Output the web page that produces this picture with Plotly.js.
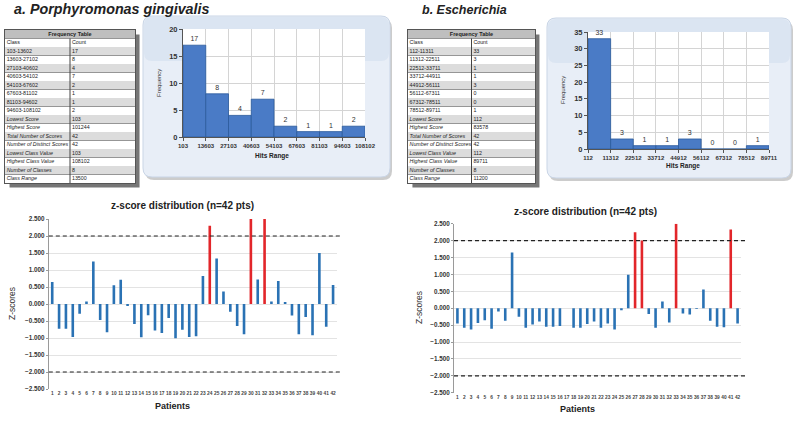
<!DOCTYPE html>
<html><head><meta charset="utf-8">
<script src="https://cdn.plot.ly/plotly-3.0.1.min.js"></script>
<style>html,body{margin:0;padding:0;background:#fff}#chart{width:800px;height:425px}</style>
</head><body><div id="chart"></div>
<script>
const FONT = 'Liberation Sans, Arial, Helvetica, sans-serif';

// ---- Panel a: Porphyromonas gingivalis ----
const histA_edges = ['103','13603','27103','40603','54103','67603','81103','94603','108102'];
const histA_counts = [17, 8, 4, 7, 2, 1, 1, 2];
const tableA_classes = ['103-13602','13603-27102','27103-40602','40603-54102','54103-67602','67603-81102','81103-94602','94603-108102'];
const tableA_statNames = ['Lowest Score','Highest Score','Total Number of Scores','Number of Distinct Scores','Lowest Class Value','Highest Class Value','Number of Classes','Class Range'];
const tableA_statValues = ['103','101244','42','42','103','108102','8','13500'];

// ---- Panel b: Escherichia ----
const histB_edges = ['112','11312','22512','33712','44912','56112','67312','78512','89711'];
const histB_counts = [33, 3, 1, 1, 3, 0, 0, 1];
const tableB_classes = ['112-11311','11312-22511','22512-33711','33712-44911','44912-56111','56112-67311','67312-78511','78512-89711'];
const tableB_statNames = ['Lowest Score','Highest Score','Total Number of Scores','Number of Distinct Scores','Lowest Class Value','Highest Class Value','Number of Classes','Class Range'];
const tableB_statValues = ['112','83578','42','42','112','89711','8','11200'];

const tableTitle = 'Frequency Table';
const tableHeader = ['Class', 'Count'];

// ---- z-scores ----
const patients = ['1','2','3','4','5','6','7','8','9','10','11','12','13','14','15','16','17','18','19','20','21',
  '22','23','24','25','26','27','28','29','30','31','32','33','34','35','36','37','38','39','40','41','42'];
const zA = [0.65,-0.73,-0.73,-0.97,-0.29,0.07,1.25,-0.47,-0.83,0.55,0.71,-0.06,-0.59,-0.98,-0.33,-0.78,-0.85,-0.41,-1.01,-0.76,-0.97,
  -0.95,0.82,2.30,1.34,0.37,-0.23,-0.65,-0.89,2.50,0.72,2.50,0.07,0.68,0.06,-0.34,-0.89,-0.38,-0.92,1.50,-0.67,0.56];
const zB = [-0.45,-0.58,-0.63,-0.44,-0.36,-0.61,-0.10,-0.37,1.65,-0.25,-0.58,-0.48,-0.39,-0.55,-0.55,-0.53,0,-0.58,-0.58,-0.47,-0.39,
  -0.58,-0.45,-0.63,-0.06,0.99,2.25,2.00,-0.17,-0.58,0.20,-0.42,2.50,-0.16,-0.19,-0.02,0.55,-0.37,-0.55,-0.56,2.33,-0.45];
const flaggedA = ['24','30','32'];
const flaggedB = ['27','28','33','41'];
const zTitle = 'z-score distribution (n=42 pts)';
const zThresholds = [2, -2];

const BLUE_H = '#4a7bc6', BLUE_H_LINE = '#2b5b9c';
const BLUE_Z = '#2a72b4', RED_Z = '#e2262a';

const W = 800, H = 425;
const px = x => x / W;
const py = y => 1 - y / H;

// ---------- tables (heatmap cells + text) ----------
function tableTraces(classes, counts, statNames, statValues, xa, ya) {
  const col1 = [tableHeader[0]].concat(classes, statNames.map(s => '<i>' + s + '</i>'));
  const col2 = [tableHeader[1]].concat(counts.map(String), statValues);
  const nRows = col1.length + 1; // + title row
  const rowCenters = [];
  const z = [];
  for (let r = 0; r < nRows; r++) {
    rowCenters.push(r + 0.5);
    const v = r === 0 ? 2 : (r === 1 ? 0 : (r % 2 === 0 ? 1 : 0));
    z.push([v, v]);
  }
  const heat = {
    type: 'heatmap', xaxis: xa, yaxis: ya, x: [0.5, 1.5], y: rowCenters, z: z,
    zmin: 0, zmax: 2, showscale: false, ygap: 1, hoverinfo: 'skip',
    colorscale: [[0, '#ffffff'], [0.5, '#dcdcdc'], [1, '#bfbfbf']]
  };
  const bodyRows = rowCenters.slice(1);
  const txt1 = {type: 'scatter', mode: 'text', xaxis: xa, yaxis: ya, cliponaxis: false, hoverinfo: 'skip',
    x: bodyRows.map(() => 0.025), y: bodyRows, text: col1, textposition: 'middle right',
    textfont: {family: FONT, size: 5.3, color: '#222'}};
  const txt2 = {type: 'scatter', mode: 'text', xaxis: xa, yaxis: ya, cliponaxis: false, hoverinfo: 'skip',
    x: bodyRows.map(() => 1.03), y: bodyRows, text: col2, textposition: 'middle right',
    textfont: {family: FONT, size: 5.3, color: '#222'}};
  const ttl = {type: 'scatter', mode: 'text', xaxis: xa, yaxis: ya, cliponaxis: false, hoverinfo: 'skip',
    x: [1], y: [rowCenters[0]], text: ['<b>' + tableTitle + '</b>'], textposition: 'middle center',
    textfont: {family: FONT, size: 5.5, color: '#222'}};
  return [heat, txt1, txt2, ttl];
}
function tableX(domain) {
  return {domain: domain, range: [0, 2], showgrid: false, zeroline: false, showticklabels: false, ticks: '',
    showline: true, mirror: true, linecolor: '#555', linewidth: 1, fixedrange: true};
}
function tableY(domain, nRows) {
  const vals = [];
  for (let r = 0; r <= nRows; r++) vals.push(r);
  return {domain: domain, range: [nRows, 0], tickmode: 'array', tickvals: vals, showgrid: true, gridcolor: '#6a6a6a',
    gridwidth: 0.7, zeroline: false, showticklabels: false, ticks: '',
    showline: true, mirror: true, linecolor: '#555', linewidth: 1, fixedrange: true};
}

function histTrace(counts, xa, ya) {
  return {
    type: 'bar', xaxis: xa, yaxis: ya,
    x: counts.map((_, i) => i + 0.5), y: counts, width: 1,
    marker: {color: BLUE_H, line: {color: BLUE_H_LINE, width: 0.8}},
    text: counts.map(String), textposition: 'outside', cliponaxis: false,
    textfont: {family: FONT, size: 7, color: '#333'},
    hoverinfo: 'skip'
  };
}

function zTrace(vals, flagged, xa, ya) {
  return {
    type: 'bar', xaxis: xa, yaxis: ya, x: patients, y: vals, width: 0.38,
    marker: {color: patients.map(p => flagged.includes(p) ? RED_Z : BLUE_Z)},
    hoverinfo: 'skip'
  };
}

const nRowsA = 2 + tableA_classes.length + tableA_statNames.length;
const nRowsB = 2 + tableB_classes.length + tableB_statNames.length;

const data = [].concat(
  tableTraces(tableA_classes, histA_counts, tableA_statNames, tableA_statValues, 'x5', 'y5'),
  tableTraces(tableB_classes, histB_counts, tableB_statNames, tableB_statValues, 'x6', 'y6'),
  [histTrace(histA_counts, 'x', 'y'),
   histTrace(histB_counts, 'x2', 'y2'),
   zTrace(zA, flaggedA, 'x3', 'y3'),
   zTrace(zB, flaggedB, 'x4', 'y4')]
);

function histX(domain, edges) {
  return {domain: domain, range: [0, edges.length - 1], tickvals: edges.map((_, i) => i), ticktext: edges,
    showgrid: true, gridcolor: '#d4d4d4', gridwidth: 1, zeroline: false,
    showline: true, linecolor: '#555', linewidth: 1, ticks: 'outside', ticklen: 3, tickcolor: '#555',
    tickangle: 0, tickfont: {family: FONT, size: 6, weight: 'bold', color: '#333'}};
}
function histY(domain, max) {
  return {domain: domain, range: [0, max], dtick: 5, showgrid: true, gridcolor: '#d4d4d4', zeroline: false,
    showline: true, linecolor: '#555', linewidth: 1, ticks: 'outside', ticklen: 3, tickcolor: '#555',
    tickfont: {family: FONT, size: 7.5, weight: 'bold', color: '#333'}};
}
function zX(domain) {
  return {domain: domain, type: 'category', range: [-0.5, patients.length - 0.5],
    tickmode: 'array', tickvals: patients, ticktext: patients, tickangle: 0, ticks: '',
    showgrid: false, zeroline: false, showline: false,
    tickfont: {family: FONT, size: 4.8, weight: 'bold', color: '#444'}};
}
function zY(domain) {
  return {domain: domain, range: [-2.5, 2.5], dtick: 0.5, tickformat: '.3f',
    showgrid: true, gridcolor: '#e3e3e3', gridwidth: 1, zeroline: false,
    showline: true, linecolor: '#9a9a9a', linewidth: 1, ticks: 'outside', ticklen: 2, tickcolor: '#9a9a9a',
    tickfont: {family: FONT, size: 6.3, weight: 'bold', color: '#333'}};
}

function roundRect(x0, y0, x1, y1, r) {
  const rx = r / W, ry = r / H;
  const X0 = px(x0), X1 = px(x1), Y0 = py(y0), Y1 = py(y1);
  return `M${X0 + rx},${Y0} L${X1 - rx},${Y0} Q${X1},${Y0} ${X1},${Y0 - ry} L${X1},${Y1 + ry} Q${X1},${Y1} ${X1 - rx},${Y1} L${X0 + rx},${Y1} Q${X0},${Y1} ${X0},${Y1 + ry} L${X0},${Y0 - ry} Q${X0},${Y0} ${X0 + rx},${Y0} Z`;
}

const shapes = [];
// table shadows, white base and column divider
[['x5', 'y5', nRowsA], ['x6', 'y6', nRowsB]].forEach(([xa, ya, n]) => {
  shapes.push({type: 'rect', xref: xa + ' domain', yref: ya + ' domain', layer: 'below',
    x0: 0.035, x1: 1.035, y0: -0.03, y1: 0.97, fillcolor: '#767676', line: {width: 0}});
  shapes.push({type: 'rect', xref: xa + ' domain', yref: ya + ' domain', layer: 'below',
    x0: 0, x1: 1, y0: 0, y1: 1, fillcolor: '#ffffff', line: {width: 0}});
  shapes.push({type: 'line', xref: xa, yref: ya, x0: 1, x1: 1, y0: 1, y1: n,
    line: {color: '#444', width: 1}});
});
// histogram panels
[[143, 16, 390, 177, 'x', 'y'], [547, 18, 791, 178, 'x2', 'y2']].forEach(([x0, y0, x1, y1, xa, ya]) => {
  shapes.push({type: 'path', xref: 'paper', yref: 'paper', layer: 'below', path: roundRect(x0 + 2, y0 + 3, x1 + 2, y1 + 3, 9),
    fillcolor: 'rgba(0,0,0,0.2)', line: {width: 0}});
  shapes.push({type: 'path', xref: 'paper', yref: 'paper', layer: 'below', path: roundRect(x0, y0, x1, y1, 9),
    fillcolor: '#e8eef7', line: {color: '#c9d5e6', width: 1}});
  shapes.push({type: 'path', xref: 'paper', yref: 'paper', layer: 'below', path: roundRect(x0 + 1, y0 + 1, x1 - 1, y0 + 45, 8),
    fillcolor: '#dbe5f2', line: {width: 0}});
  shapes.push({type: 'rect', xref: xa + ' domain', yref: ya + ' domain', layer: 'below', x0: 0, x1: 1, y0: 0, y1: 1,
    fillcolor: '#ffffff', line: {width: 0}});
});
// threshold lines
[['x3', 'y3'], ['x4', 'y4']].forEach(([xa, ya]) => {
  zThresholds.forEach(t => shapes.push({type: 'line', xref: xa + ' domain', yref: ya, x0: 0, x1: 1.02, y0: t, y1: t,
    line: {color: '#222', width: 1.2, dash: '4px,3px'}}));
});

function note(text, x, y, size, extra) {
  return Object.assign({xref: 'paper', yref: 'paper', x: px(x), y: py(y), xanchor: 'center', yanchor: 'middle',
    showarrow: false, text: text, font: {family: FONT, size: size, color: '#222'}}, extra || {});
}

const annotations = [
  note('<b><i>a. Porphyromonas gingivalis</i></b>', 12, 9, 14.3, {xanchor: 'left'}),
  note('<b><i>b. Escherichia</i></b>', 420, 10, 12.5, {xanchor: 'left'}),
  // histogram axis titles
  note('Frequency', 159, 83, 6, {textangle: -90, font: {family: FONT, size: 6, color: '#333'}}),
  note('<b>Hits Range</b>', 272, 156, 6.5),
  note('Frequency', 563, 90, 6, {textangle: -90, font: {family: FONT, size: 6, color: '#333'}}),
  note('<b>Hits Range</b>', 683, 166, 6.5),
  // z-score titles and axis titles
  note('<b>' + zTitle + '</b>', 182, 206, 10),
  note('<b>' + zTitle + '</b>', 585, 211, 10),
  note('Z-scores', 12, 304, 8.5, {textangle: -90, font: {family: FONT, size: 8.5, color: '#333'}}),
  note('Z-scores', 419, 308, 8.5, {textangle: -90, font: {family: FONT, size: 8.5, color: '#333'}}),
  note('<b>Patients</b>', 172, 406, 9),
  note('<b>Patients</b>', 577, 409, 9)
];

const layout = {
  width: W, height: H, margin: {l: 0, r: 0, t: 0, b: 0},
  paper_bgcolor: '#ffffff', plot_bgcolor: '#ffffff', showlegend: false,
  font: {family: FONT, color: '#222'},
  xaxis: histX([px(183), px(365)], histA_edges),
  yaxis: histY([py(137), py(29)], 20),
  xaxis2: histX([px(588), px(769)], histB_edges),
  yaxis2: histY([py(149), py(32)], 35),
  xaxis3: zX([px(48.8), px(336.5)]),
  yaxis3: zY([py(389), py(219)]),
  xaxis4: zX([px(454), px(741)]),
  yaxis4: zY([py(392.7), py(223.7)]),
  xaxis5: tableX([px(5), px(135)]),
  yaxis5: tableY([py(183), py(30)], nRowsA),
  xaxis6: tableX([px(408), px(535)]),
  yaxis6: tableY([py(183), py(30)], nRowsB),
  shapes: shapes, annotations: annotations
};
[2, 3, 4, 5, 6].forEach(i => {
  layout['xaxis' + i].anchor = 'y' + i;
  layout['yaxis' + i].anchor = 'x' + i;
});

Plotly.newPlot('chart', data, layout, {displayModeBar: false, staticPlot: true});
</script></body></html>
